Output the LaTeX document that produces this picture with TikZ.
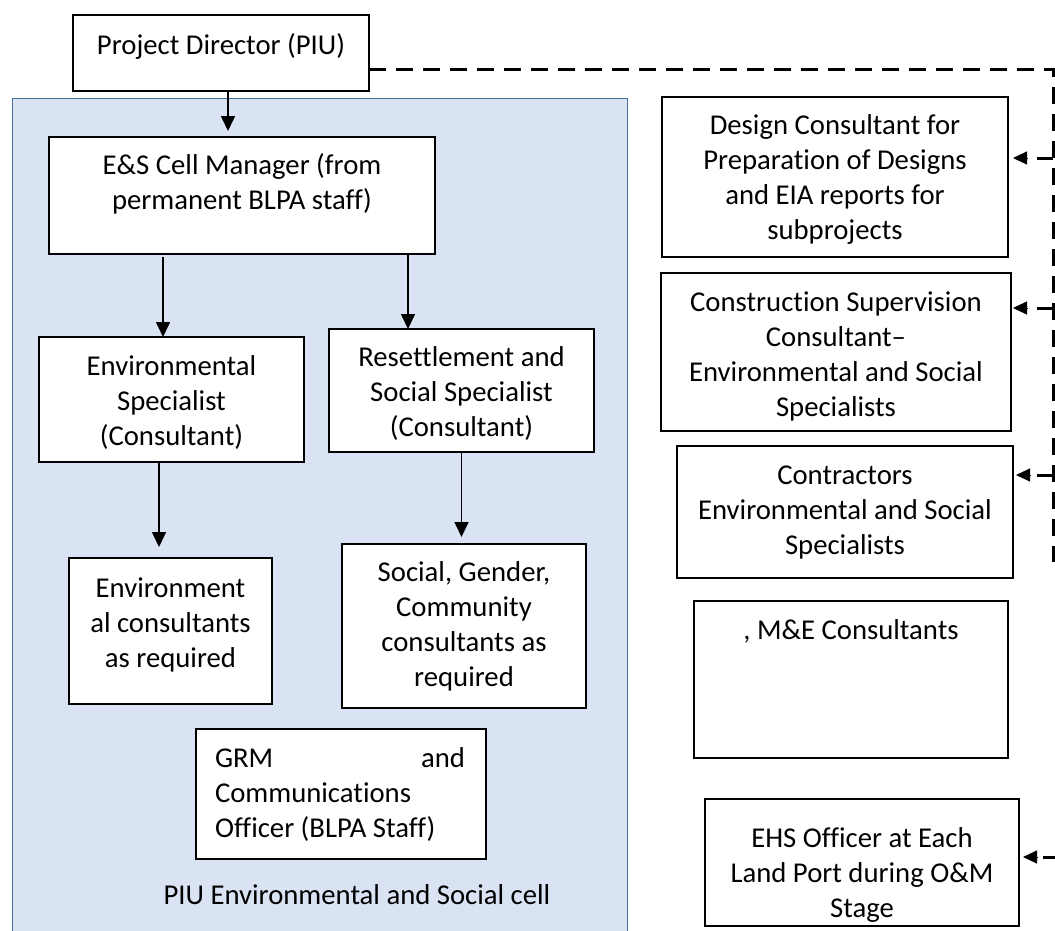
\documentclass[tikz,border=0pt]{standalone}
\usepackage{fontspec}
\setmainfont{Carlito}[Ligatures={NoCommon}]
\usetikzlibrary{arrows.meta}
\definecolor{cellfill}{HTML}{DAE3F3}
\definecolor{cellline}{HTML}{41719C}
% box content: width, height, space above first line, centred lines
\newcommand\boxlines[4]{\parbox[c][#2pt][t]{#1pt}{\centering\vspace*{#3pt}\strut#4}}
\begin{document}
\begin{tikzpicture}[x=1pt,y=-1pt,
  box/.style={draw=black, line width=1.3pt, fill=white, inner sep=0pt, outer sep=0pt,
    anchor=north west, font=\fontsize{28.7}{35}\selectfont},
  cellbox/.style={draw=cellline, line width=1pt, fill=cellfill, inner sep=0pt,
    anchor=north west},
  lbl/.style={inner sep=0pt, font=\fontsize{28.7}{35}\selectfont},
  arr/.style={line width=1.5pt, -{Triangle[length=15pt 0 0,width=14pt 0 0]}},
  dashline/.style={line width=3pt, dash pattern=on 17pt off 10pt},
  stub/.style={line width=3pt},
  tiponly/.style={line width=1pt, -{Triangle[length=14pt 0 0,width=13pt 0 0]}}]
\useasboundingbox (0,0) rectangle (1055,930);
\clip (0,0) rectangle (1055,930);

% PIU Environmental and Social cell
\node[cellbox, minimum width=615pt, minimum height=860pt] (cell) at (12,98) {};
\node[lbl] (celllabel) at (357,895) {PIU Environmental and Social cell};

% boxes
\node[box] (pd) at (73,15) {\boxlines{296}{76}{14.5}{Project Director (PIU)}};
\node[box] (es) at (49,137) {\boxlines{386}{117}{12.5}{E\&S Cell Manager (from\\permanent BLPA staff)}};
\node[box] (envspec) at (39,337) {\boxlines{265}{125}{13.5}{Environmental\\Specialist\\(Consultant)}};
\node[box] (res) at (329,329) {\boxlines{265}{123}{12.5}{Resettlement and\\Social Specialist\\(Consultant)}};
\node[box] (envcons) at (69,558) {\boxlines{203}{146}{14.5}{Environment\\al consultants\\as required}};
\node[box] (soccons) at (342,544) {\boxlines{244}{164}{12.5}{Social, Gender,\\Community\\consultants as\\required}};
\node[box] (grm) at (196,729) {\parbox[c][130pt][t]{290pt}{\leftskip=19pt\rightskip=21pt
  \vspace*{13.5pt}\strut GRM\hfill and\\Communications\\Officer (BLPA Staff)}};

\node[box] (design) at (662,97) {\boxlines{346}{160}{12.5}{Design Consultant for\\Preparation of Designs\\and EIA reports for\\subprojects}};
\node[box] (constr) at (661,273) {\boxlines{350}{158}{13.5}{Construction Supervision\\Consultant--\\Environmental and Social\\Specialists}};
\node[box] (contr) at (677,446) {\boxlines{336}{132}{13.5}{Contractors\\Environmental and Social\\Specialists}};
\node[box] (me) at (694,601) {\boxlines{314}{157}{13.5}{, M\&E Consultants}};
\node[box] (ehs) at (705,799) {\boxlines{314}{127}{23.5}{EHS Officer at Each\\Land Port during O\&M\\Stage}};

% reporting lines inside the cell
\coordinate (a1) at ([xshift=7pt]pd.south);
\draw[arr, shorten >=6pt] (a1) -- (a1 |- es.north);
\coordinate (a2) at ([xshift=-79pt, yshift=-3pt]es.south);
\draw[arr] (a2) -- (a2 |- envspec.north);
\coordinate (a3) at ([xshift=166pt]es.south);
\draw[arr] (a3) -- (a3 |- res.north);
\coordinate (a4) at ([xshift=-12.5pt]envspec.south);
\draw[arr, shorten >=11pt] (a4) -- (a4 |- envcons.north);
\coordinate (a5) at (res.south);
\draw[arr, shorten >=7pt] (a5) -- (a5 |- soccons.north);

% dashed coordination line to the external consultants
\coordinate (bustop) at (1053,69);
\coordinate (busend) at (1053,562);
\draw[dashline] ([yshift=-16pt]pd.east) -- (bustop) -- (busend);
\coordinate (din) at ([yshift=19pt]design.east);
\coordinate (cin) at ([yshift=44pt]constr.east);
\coordinate (kin) at ([yshift=37pt]contr.east);
\coordinate (ein) at ([yshift=5.5pt]ehs.east);
\coordinate (ehsfeed) at (1060,857);
% each branch: one dash off the vertical line, then the arrow head
\draw[stub] (din -| bustop) -- ++(-16,0);
\draw[tiponly] ([xshift=19pt]din) -- ([xshift=5pt]din);
\draw[stub] (cin -| bustop) -- ++(-16,0);
\draw[tiponly] ([xshift=16pt]cin) -- ([xshift=2pt]cin);
\draw[stub] (kin -| bustop) -- ++(-16,0);
\draw[tiponly] ([xshift=17pt]kin) -- ([xshift=3pt]kin);
\draw[stub] (ehsfeed) -- ++(-17,0);
\draw[tiponly] ([xshift=18pt]ein) -- ([xshift=4pt]ein);
\end{tikzpicture}
\end{document}
